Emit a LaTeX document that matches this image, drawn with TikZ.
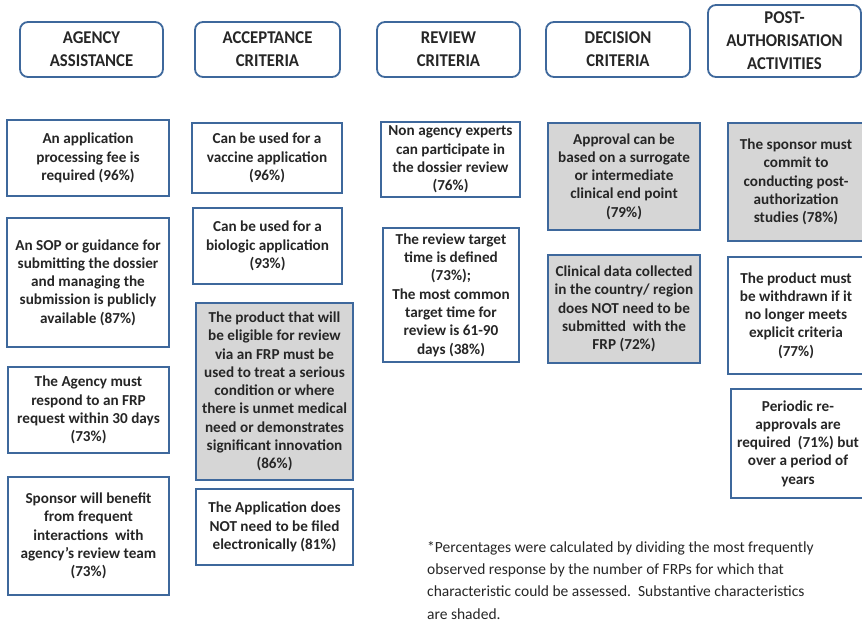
\documentclass[tikz,border=0pt]{standalone}
\usepackage{fontspec}
\setmainfont{Carlito}
\newfontfamily\headfont{Carlito}[FakeStretch=0.93]
\usepackage{tikz}
\usetikzlibrary{positioning}

\definecolor{boxblue}{RGB}{62,104,156}
\definecolor{boxshade}{RGB}{214,214,214}
\definecolor{inkgray}{RGB}{38,38,38}

\begin{document}
\begin{tikzpicture}[x=1pt, y=-1pt,
    headbox/.style={draw=boxblue, line width=1.8pt, rounded corners=8pt, fill=white,
        inner sep=0pt, align=center, text=inkgray,
        font=\headfont\bfseries\fontsize{18}{23}\selectfont},
    itembox/.style={draw=boxblue, line width=2.4pt, fill=white,
        inner sep=0pt, align=center, text=inkgray,
        font=\bfseries\fontsize{15.2}{18.3}\selectfont},
    shaded/.style={itembox, fill=boxshade}]
    % Page frame
    \useasboundingbox (0,0) rectangle (862,629);
    \clip (0,0) rectangle (862,629);

    % Column headings
    \node[headbox, minimum width=143pt, minimum height=55pt] (hAgency) at (91.5,49.5) {AGENCY\\ASSISTANCE};
    \node[headbox, minimum width=145pt, minimum height=55pt] (hAccept) at (267.5,49.5) {ACCEPTANCE\\CRITERIA};
    \node[headbox, minimum width=143pt, minimum height=55pt] (hReview) at (448.5,49.5) {REVIEW\\CRITERIA};
    \node[headbox, minimum width=144pt, minimum height=55pt] (hDecision) at (618,49.5) {DECISION\\CRITERIA};
    \node[headbox, minimum width=153pt, minimum height=72pt] (hPost) at (784.5,41) {POST-\\AUTHORISATION\\ACTIVITIES};

    % Agency assistance
    \node[itembox, minimum width=162pt, minimum height=76pt] (agencyFee) at (88,158) {An application\\processing fee is\\required (96\%)};
    \node[itembox, minimum width=162pt, minimum height=129pt] (agencySop) at (88,282.5) {An SOP or guidance for\\submitting the dossier\\and managing the\\submission is publicly\\available (87\%)};
    \node[itembox, minimum width=161pt, minimum height=86pt] (agencyRespond) at (88.5,410) {The Agency must\\respond to an FRP\\request within 30 days\\(73\%)};
    \node[itembox, minimum width=161pt, minimum height=118pt] (agencySponsor) at (88.5,536) {Sponsor will benefit\\from frequent\\interactions\ \ with\\agency's review team\\(73\%)};

    % Acceptance criteria
    \node[itembox, minimum width=150pt, minimum height=70pt] (acceptVaccine) at (267,158) {Can be used for a\\vaccine application\\(96\%)};
    \node[itembox, minimum width=149pt, minimum height=76pt] (acceptBiologic) at (267.5,246) {Can be used for a\\biologic application\\(93\%)};
    \node[shaded, minimum width=157pt, minimum height=177pt] (acceptProduct) at (274.5,391.5) {The product that will\\be eligible for review\\via an FRP must be\\used to treat a serious\\condition or where\\there is unmet medical\\need or demonstrates\\significant innovation\\(86\%)};
    \node[itembox, minimum width=157pt, minimum height=76pt] (acceptElectronic) at (274.5,527) {The Application does\\NOT need to be filed\\electronically (81\%)};

    % Review criteria
    \node[itembox, minimum width=139pt, minimum height=75pt] (reviewExperts) at (450.5,159.5) {Non agency experts\\can participate in\\the dossier review\\(76\%)};
    \node[itembox, minimum width=136pt, minimum height=134pt] (reviewTime) at (451,295) {The review target\\time is defined\\(73\%);\\The most common\\target time for\\review is 61-90\\days (38\%)};

    % Decision criteria
    \node[shaded, minimum width=152pt, minimum height=107pt] (decisionSurrogate) at (624,176.5) {Approval can be\\based on a surrogate\\or intermediate\\clinical end point\\(79\%)};
    \node[shaded, minimum width=152pt, minimum height=108pt] (decisionClinical) at (624,309) {Clinical data collected\\in the country/ region\\does NOT need to be\\submitted\ \ with the\\FRP (72\%)};

    % Post-authorisation activities (cut at the right edge)
    \node[shaded, minimum width=136pt, minimum height=118pt] (postStudies) at (796,182) {The sponsor must\\commit to\\conducting post-\\authorization\\studies (78\%)};
    \node[itembox, minimum width=136pt, minimum height=117pt] (postWithdrawn) at (796,315.5) {The product must\\be withdrawn if it\\no longer meets\\explicit criteria\\(77\%)};
    \node[itembox, minimum width=134pt, minimum height=109pt] (postReapproval) at (798,443.5) {Periodic re-\\approvals are\\required\ \ (71\%) but\\over a period of\\years};

    % Footnote
    \node[anchor=north west, inner sep=0pt, align=left, text=inkgray,
        font=\fontsize{15.5}{22.3}\selectfont] (note) at (427,541)
        {*Percentages were calculated by dividing the most frequently\\observed response by the number of FRPs for which that\\characteristic could be assessed.\ \ Substantive characteristics\\are shaded.};
\end{tikzpicture}
\end{document}
